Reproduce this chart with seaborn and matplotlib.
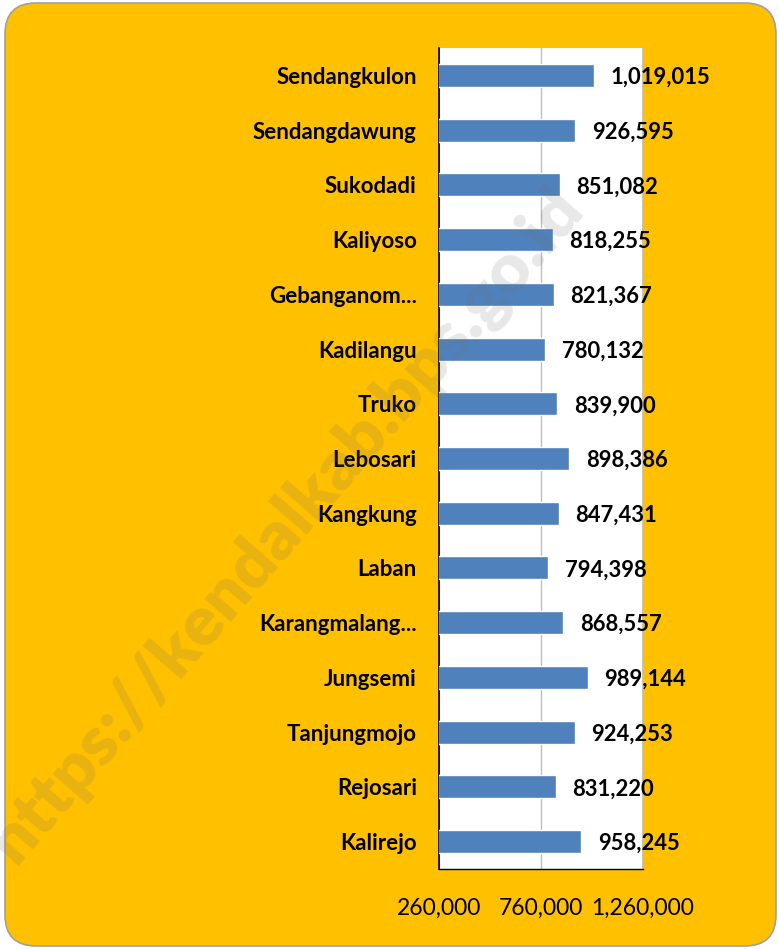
import matplotlib
matplotlib.use("Agg")
import matplotlib.pyplot as plt
import seaborn as sns
import pandas as pd
from matplotlib.patches import FancyBboxPatch
from matplotlib.ticker import FuncFormatter

# data (top to bottom)
desa = ["Sendangkulon", "Sendangdawung", "Sukodadi", "Kaliyoso", "Gebanganom...",
        "Kadilangu", "Truko", "Lebosari", "Kangkung", "Laban",
        "Karangmalang...", "Jungsemi", "Tanjungmojo", "Rejosari", "Kalirejo"]
nilai = [1019015, 926595, 851082, 818255, 821367,
         780132, 839900, 898386, 847431, 794398,
         868557, 989144, 924253, 831220, 958245]
ticks = [260000, 760000, 1260000]

df = pd.DataFrame({"desa": desa, "nilai": nilai})

sns.set_theme(style="white")
plt.rcParams["font.family"] = ["Lato", "DejaVu Sans"]

W, H = 779, 949
fig = plt.figure(figsize=(W / 100, H / 100), dpi=100)
fig.patch.set_facecolor("white")

# latar oranye membulat
bg = FancyBboxPatch((5 / W, 3 / H), 771 / W, 943 / H,
                    boxstyle="round,pad=0,rounding_size=0.04",
                    transform=fig.transFigure, facecolor="#FFC000",
                    edgecolor="#A0A0A0", linewidth=1.2, zorder=-5,
                    mutation_aspect=W / H)
fig.patches.append(bg)

ax = fig.add_axes([439 / W, 1 - 869 / H, 204 / W, 821 / H])
ax.set_facecolor("white")
sns.barplot(data=df, x="nilai", y="desa", orient="h", color="#4F81BD",
            width=0.42, saturation=1, ax=ax, zorder=3)

ax.set_xlim(260000, 1260000)
ax.set_xticks(ticks)
ax.xaxis.set_major_formatter(FuncFormatter(lambda v, p: f"{int(v):,}"))
ax.tick_params(axis="x", length=0, pad=21, labelsize=16.5, colors="black")
ax.tick_params(axis="y", length=0, pad=16, labelsize=16, colors="black")
for lbl in ax.get_yticklabels():
    lbl.set_fontweight("bold")
ax.set_xlabel("")
ax.set_ylabel("")

ax.grid(axis="x", color="#BEBEBE", linewidth=1, zorder=0)
ax.grid(axis="y", visible=False)
ax.spines["top"].set_visible(False)
ax.spines["right"].set_color("#BEBEBE")
ax.spines["left"].set_color("black")
ax.spines["left"].set_linewidth(1.2)
ax.spines["bottom"].set_color("black")
ax.spines["bottom"].set_linewidth(1.0)

for i, v in enumerate(nilai):
    ax.annotate(f"{v:,}", xy=(v, i), xytext=(12, 0), textcoords="offset points",
                ha="left", va="center_baseline", fontsize=15.8, fontweight="bold",
                color="black", annotation_clip=False, zorder=5)

# watermark di atas semuanya
fig.text(285 / W, 1 - 525 / H, "https://kendalkab.bps.go.id", rotation=49,
         ha="center", va="center", fontsize=50, fontweight="heavy",
         color="#707070", alpha=0.16, zorder=10)

fig.savefig("out.png", dpi=100)
